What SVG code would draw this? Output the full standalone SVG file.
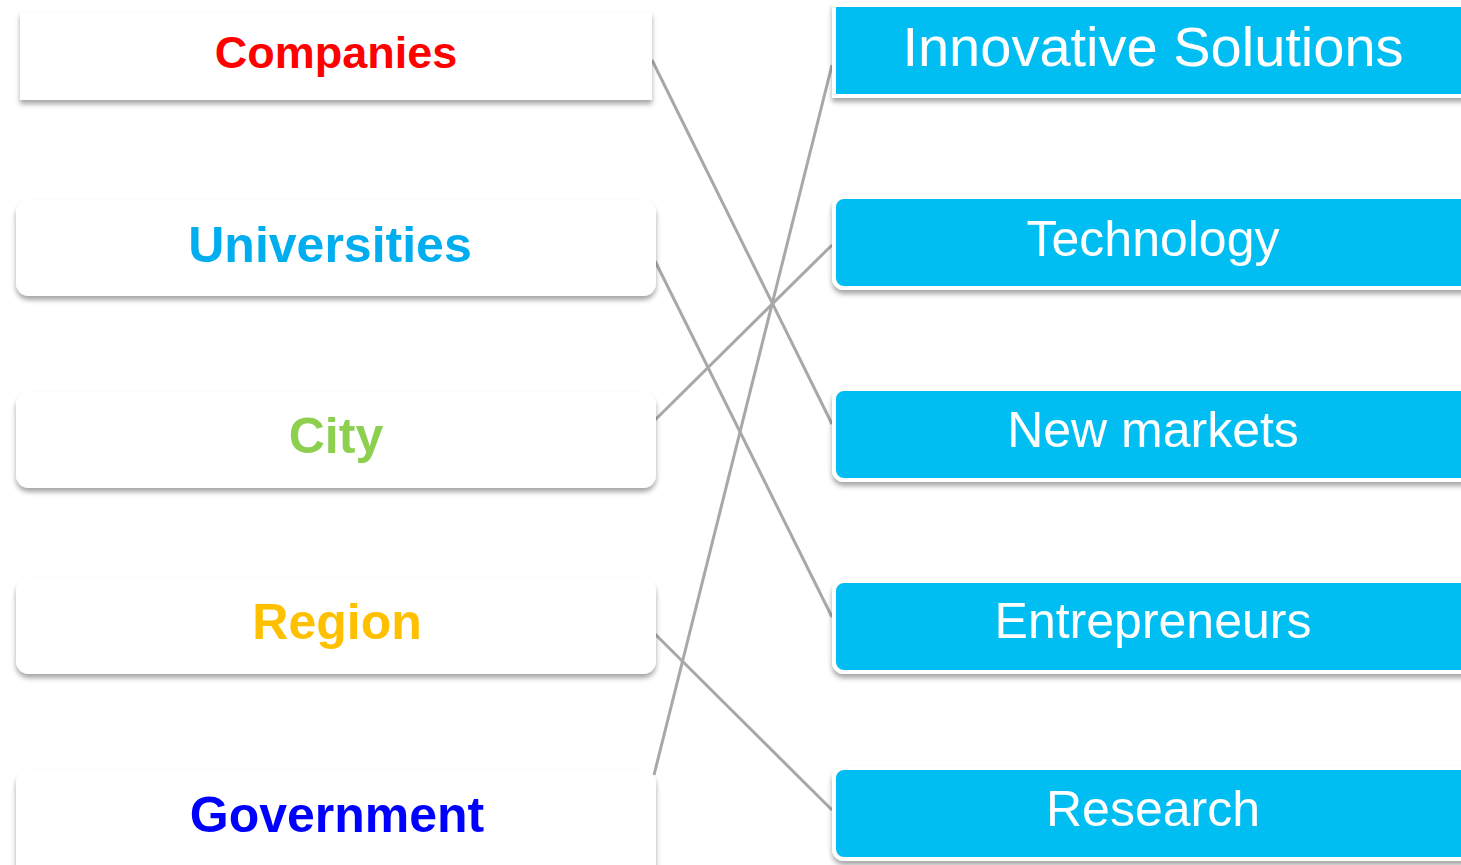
<svg xmlns="http://www.w3.org/2000/svg" width="1461" height="865" viewBox="0 0 1461 865">
<defs>
<filter id="sh" x="-5%" y="-20%" width="110%" height="150%">
<feDropShadow dx="0" dy="4" stdDeviation="2.5" flood-color="#000" flood-opacity="0.35"/>
</filter>
<style>
.lbox{fill:#fff;filter:url(#sh)}
.rbox{fill:#00BEF2;stroke:#fff;stroke-width:4;filter:url(#sh)}
.lt{font-family:"Liberation Sans",Arial,sans-serif;font-weight:bold;font-size:50px;text-anchor:middle}
.rt{font-family:"Liberation Sans",Arial,sans-serif;font-size:50px;fill:#fff;text-anchor:middle}
.con{stroke:#a8a8a8;stroke-width:3;fill:none}
</style>
</defs>
<rect width="1461" height="865" fill="#fff"/>
<g id="connectors">
<line class="con" x1="652" y1="60" x2="832" y2="424"/>
<line class="con" x1="655" y1="261" x2="832" y2="617"/>
<line class="con" x1="655" y1="420" x2="832" y2="245"/>
<line class="con" x1="655" y1="634" x2="832" y2="810"/>
<line class="con" x1="654" y1="775" x2="832" y2="65"/>
</g>
<g id="companies"><rect class="lbox" x="20" y="12" width="632" height="88"/><text class="lt" x="336" y="68" fill="#FF0000" style="font-size:45px">Companies</text></g>
<g id="universities"><rect class="lbox" x="16" y="200" width="640" height="96" rx="13"/><text class="lt" x="330" y="262" fill="#00AEEF">Universities</text></g>
<g id="city"><rect class="lbox" x="16" y="392" width="640" height="96" rx="13"/><text class="lt" x="336" y="453" fill="#8DD050">City</text></g>
<g id="region"><rect class="lbox" x="16" y="578" width="640" height="96" rx="13"/><text class="lt" x="337" y="639" fill="#FFC000">Region</text></g>
<g id="government"><rect class="lbox" x="16" y="770" width="640" height="110" rx="13"/><text class="lt" x="337" y="832" fill="#0000FF">Government</text></g>
<g id="innovative"><rect class="rbox" x="834" y="5" width="650" height="91"/><text class="rt" x="1153" y="66" style="font-size:56px">Innovative Solutions</text></g>
<g id="technology"><rect class="rbox" x="834" y="197" width="650" height="91" rx="10"/><text class="rt" x="1153" y="256">Technology</text></g>
<g id="newmarkets"><rect class="rbox" x="834" y="389" width="650" height="91" rx="10"/><text class="rt" x="1153" y="447">New markets</text></g>
<g id="entrepreneurs"><rect class="rbox" x="834" y="581" width="650" height="91" rx="10"/><text class="rt" x="1153" y="638">Entrepreneurs</text></g>
<g id="research"><rect class="rbox" x="834" y="768" width="650" height="91" rx="10"/><text class="rt" x="1153" y="826">Research</text></g>
</svg>
